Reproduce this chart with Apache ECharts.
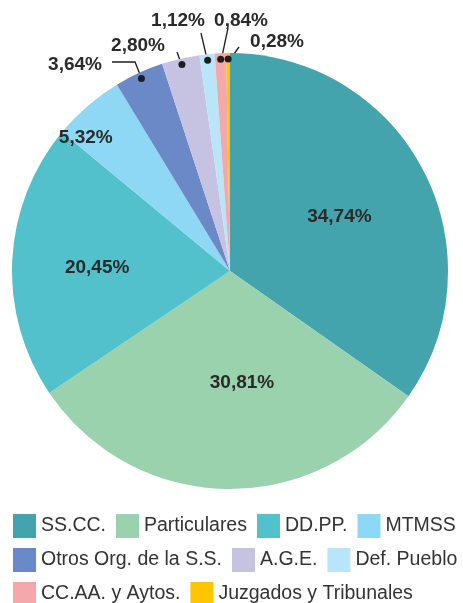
<!DOCTYPE html>
<html>
<head>
<meta charset="utf-8">
<title>Reparto por origen</title>
<script src="https://cdn.jsdelivr.net/npm/echarts@6/dist/echarts.min.js"></script>
<style>
  html, body { margin: 0; padding: 0; background: #fff; }
  #main { width: 463px; height: 603px; }
</style>
</head>
<body>
<div id="main"></div>
<script>
// data
var categories = ['SS.CC.', 'Particulares', 'DD.PP.', 'MTMSS', 'Otros Org. de la S.S.',
    'A.G.E.', 'Def. Pueblo', 'CC.AA. y Aytos.', 'Juzgados y Tribunales'];
var shares = [34.74, 30.81, 20.45, 5.32, 3.64, 2.80, 1.12, 0.84, 0.28];

// styling
var colors = ['#44a4ad', '#9ad2ae', '#53c1cb', '#8fd8f5', '#6a89c6',
    '#c5c3e1', '#b9e5f8', '#f4a8ac', '#ffc600'];
var font = '"Liberation Sans", Arial, sans-serif';
var bigCount = 4; // first slices get their label inside

// inside labels: nudge away from the default mid-radius spot
var insideNudge = { 0: [10, -3], 1: [13, 0], 2: [-21, 2], 3: [-71, -48] };
// outside labels: label centre, then leader line bends relative to that centre
var outsideSpots = {
    4: { at: [75, 65], line: [[60, -3], [37, -3]] },
    5: { at: [138, 46], line: [[39, 6]] },
    6: { at: [178, 21], line: [[23, 12]] },
    7: { at: [241, 21], line: [[-13, 7]] },
    8: { at: [277, 42], line: [[-38, 5]] }
};

function pct(v) {
    return v.toFixed(2).replace('.', ',') + '%';
}

var chart = echarts.init(document.getElementById('main'));

var mainData = categories.map(function (c, i) {
    return { name: c, value: shares[i], itemStyle: { color: colors[i] }, label: { show: i < bigCount } };
});
var leaderData = categories.map(function (c, i) {
    return { name: c, value: shares[i], label: { show: i >= bigCount }, labelLine: { show: i >= bigCount } };
});
var dotData = categories.map(function (c, i) {
    return { name: c, value: shares[i], label: { show: i >= bigCount } };
});

var labelText = {
    fontSize: 19, fontWeight: 'bold', color: '#2a2a2a', fontFamily: font
};

var option = {
    animation: false,
    legend: {
        data: categories,
        left: 13,
        right: 0,
        top: 514,
        padding: 0,
        icon: 'rect',
        itemWidth: 23,
        itemHeight: 24,
        itemGap: 10,
        selectedMode: false,
        textStyle: { fontSize: 19.5, color: '#333', fontFamily: font }
    },
    series: [{
        // the coloured pie
        type: 'pie',
        center: [230, 271],
        radius: 218,
        startAngle: 90,
        clockwise: true,
        silent: true,
        avoidLabelOverlap: false,
        data: mainData,
        label: Object.assign({ position: 'inside', formatter: function (p) { return pct(p.value); } }, labelText),
        labelLine: { show: false },
        labelLayout: function (p) {
            var n = insideNudge[p.dataIndex];
            return n ? { dx: n[0], dy: n[1] } : {};
        }
    }, {
        // invisible copy, only carries the small labels and their leader lines
        type: 'pie',
        center: [230, 271],
        radius: 209,
        startAngle: 90,
        clockwise: true,
        silent: true,
        avoidLabelOverlap: false,
        data: leaderData,
        itemStyle: { color: 'rgba(0,0,0,0)' },
        label: Object.assign({ position: 'outside', formatter: function (p) { return pct(p.value); } }, labelText),
        labelLine: { length: 10, length2: 0, lineStyle: { color: '#1e1e1e', width: 1.3 } },
        labelLayout: function (p) {
            var s = outsideSpots[p.dataIndex];
            if (!s) return {};
            var out = { x: s.at[0], y: s.at[1], align: 'center', verticalAlign: 'middle' };
            if (p.labelLinePoints && p.labelLinePoints.length) {
                var pts = [p.labelLinePoints[0].slice()];
                for (var k = 0; k < s.line.length; k++) {
                    pts.push([s.at[0] + s.line[k][0], s.at[1] + s.line[k][1]]);
                }
                out.labelLinePoints = pts;
            }
            return out;
        }
    }, {
        // ring that puts the black dots at the leader line ends
        type: 'pie',
        center: [230, 271],
        radius: [202, 216],
        startAngle: 90,
        clockwise: true,
        silent: true,
        avoidLabelOverlap: false,
        data: dotData,
        itemStyle: { color: 'rgba(0,0,0,0)' },
        label: {
            position: 'inside',
            formatter: '{d| }',
            rich: { d: { width: 7, height: 7, borderRadius: 3.5, backgroundColor: '#1e1e1e' } }
        },
        labelLine: { show: false }
    }]
};

chart.setOption(option);
</script>
</body>
</html>
